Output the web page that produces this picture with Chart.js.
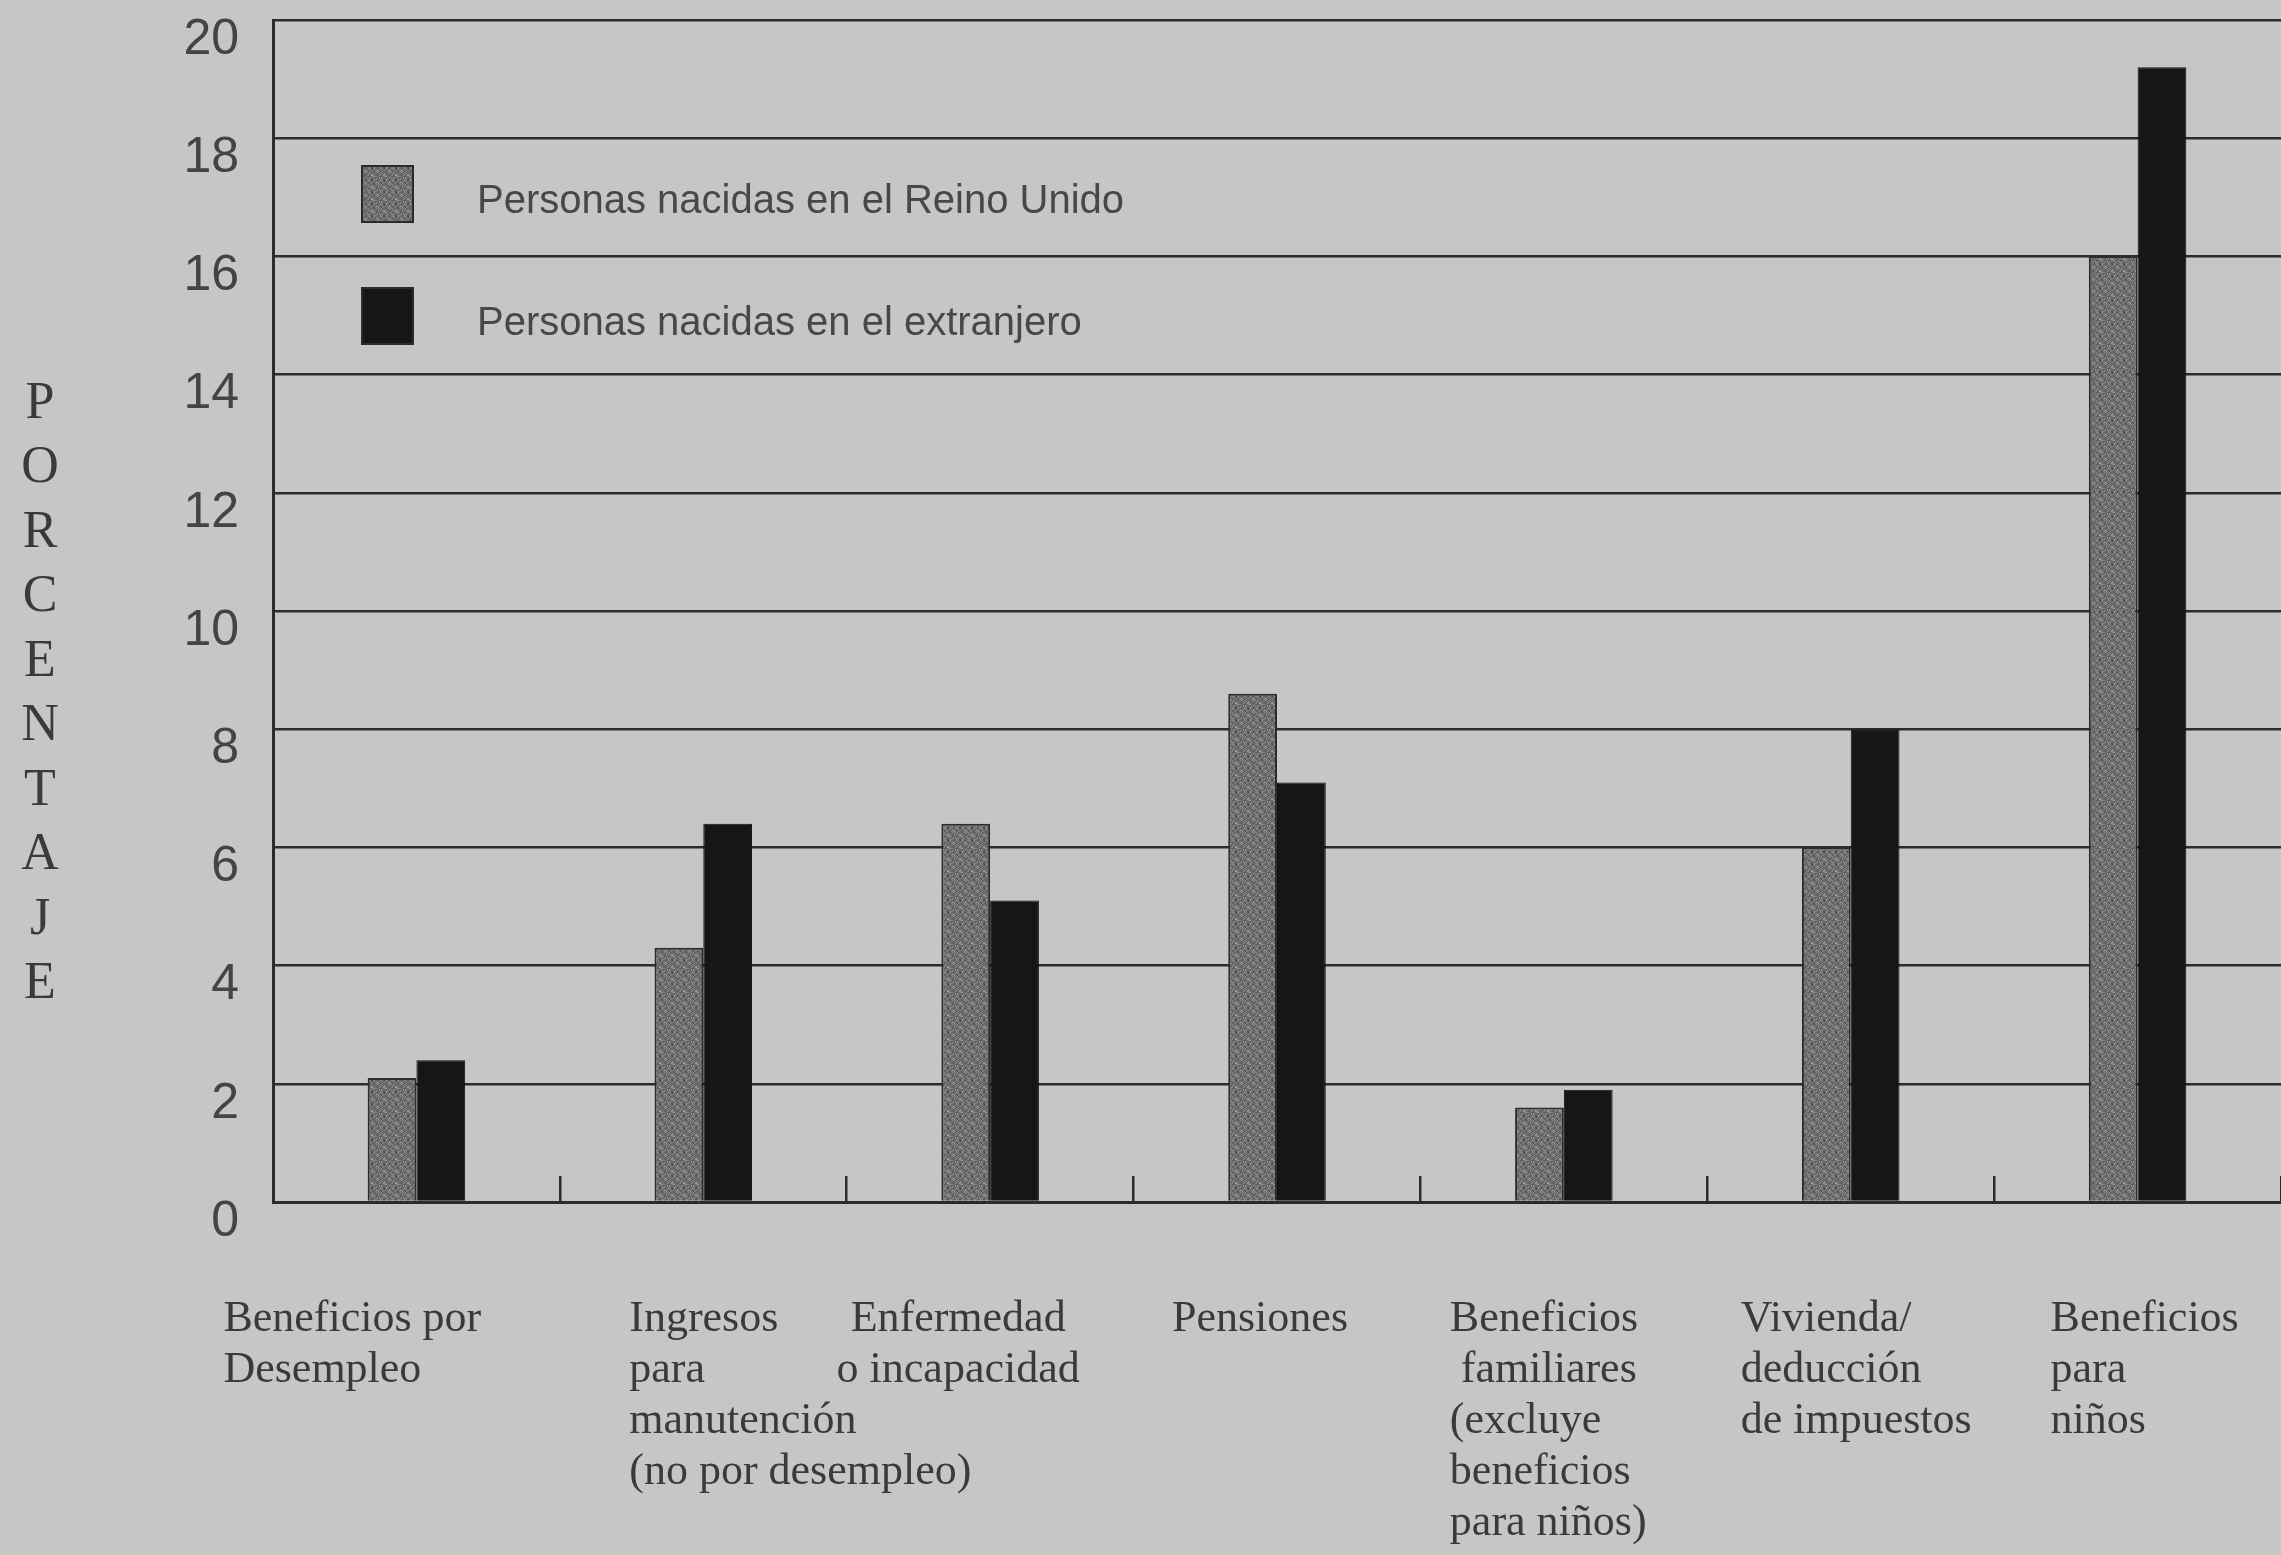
<!DOCTYPE html>
<html>
<head>
<meta charset="utf-8">
<script src="https://cdn.jsdelivr.net/npm/chart.js@4.4.0/dist/chart.umd.min.js"></script>
<style>
  html, body { margin: 0; padding: 0; background: #c6c6c4; }
  #wrap { width: 2281px; height: 1555px; position: relative; }
</style>
</head>
<body>
<div id="wrap"><canvas id="benefit_chart"></canvas></div>
<script>
// categories (one entry per line of the label)
const categories = [
  ["Beneficios por", "Desempleo"],
  ["Ingresos", "para", "manutención", "(no por desempleo)"],
  ["Enfermedad", "o incapacidad"],
  ["Pensiones"],
  ["Beneficios", " familiares", "(excluye", "beneficios", "para niños)"],
  ["Vivienda/", "deducción", "de impuestos"],
  ["Beneficios", "para", "niños"],
];
const born_uk = [2.1, 4.3, 6.4, 8.6, 1.6, 6.0, 16.0];
const born_abroad = [2.4, 6.4, 5.1, 7.1, 1.9, 8.0, 19.2];
const y_ticks = [0, 2, 4, 6, 8, 10, 12, 14, 16, 18, 20];
const series_labels = ["Personas nacidas en el Reino Unido", "Personas nacidas en el extranjero"];
const axis_title = "PORCENTAJE";

// where each category label sits relative to its category centre
const label_layout = [
  { dx: -193, align: "left" },
  { dx: -74, align: "left" },
  { dx: -32, align: "center" },
  { dx: -17, align: "center" },
  { dx: -114, align: "left" },
  { dx: -110, align: "left" },
  { dx: -87, align: "left" },
];

const ink = "#2c2c2c";
const text_color = "#3a3a3a";
const serif = "'Liberation Serif', 'Times New Roman', serif";
const sans = "'Liberation Sans Narrow', 'Liberation Sans', sans-serif";

// stippled grey fill for the UK bars
const make_speckle = () => {
  const c = document.createElement("canvas");
  c.width = 12;
  c.height = 12;
  const g = c.getContext("2d");
  g.fillStyle = "#6e6e6e";
  g.fillRect(0, 0, 12, 12);
  const shades = ["#4a4a4a", "#8e8e8e", "#585858", "#9e9e9e", "#7c7c7c"];
  for (let y = 0; y < 12; y++) {
    for (let x = 0; x < 12; x++) {
      const h = (x * 7 + y * 13 + x * y * 3) % 11;
      if (h < 5) {
        g.fillStyle = shades[h];
        g.fillRect(x, y, 1, 1);
      }
    }
  }
  return g.createPattern(c, "repeat");
};
const speckle = make_speckle();
const bar_fills = [speckle, "#161616"];

const extras = {
  id: "extras",
  afterDraw(chart) {
    const ctx = chart.ctx;
    const area = chart.chartArea;
    const x_scale = chart.scales.x;
    ctx.save();

    // legend inside the plot
    const box_x = area.left + 89;
    const centers = [area.top + 174, area.top + 296];
    series_labels.forEach((label, i) => {
      ctx.fillStyle = bar_fills[i];
      ctx.fillRect(box_x, centers[i] - 28, 51, 56);
      ctx.strokeStyle = ink;
      ctx.lineWidth = 2;
      ctx.strokeRect(box_x, centers[i] - 28, 51, 56);
      ctx.fillStyle = "#484848";
      ctx.font = "40px 'Liberation Sans', sans-serif";
      ctx.textAlign = "left";
      ctx.textBaseline = "middle";
      ctx.fillText(label, area.left + 204, centers[i] + 8);
    });

    // vertical axis title, one letter per row
    ctx.fillStyle = text_color;
    ctx.font = "52px " + serif;
    ctx.textAlign = "center";
    ctx.textBaseline = "middle";
    axis_title.split("").forEach((ch, i) => {
      ctx.fillText(ch, 40, area.top + 384 + i * 64.5);
    });

    // category labels under the axis
    ctx.font = "44px " + serif;
    categories.forEach((lines, i) => {
      const layout = label_layout[i];
      const x = x_scale.getPixelForValue(i) + layout.dx;
      ctx.textAlign = layout.align;
      lines.forEach((line, j) => {
        ctx.fillText(line, x, area.bottom + 117 + j * 51);
      });
    });
    ctx.restore();
  },
};

const config = {
  type: "bar",
  data: {
    labels: categories,
    datasets: [
      {
        label: series_labels[0],
        data: born_uk,
        backgroundColor: speckle,
        borderColor: ink,
        borderWidth: 2,
      },
      {
        label: series_labels[1],
        data: born_abroad,
        backgroundColor: "#161616",
        borderColor: "#111111",
        borderWidth: 1,
      },
    ],
  },
  options: {
    responsive: true,
    maintainAspectRatio: false,
    animation: false,
    categoryPercentage: 0.34,
    barPercentage: 1.0,
    layout: { padding: { top: 20, left: 0, right: 0, bottom: 0 } },
    plugins: {
      legend: { display: false },
      tooltip: { enabled: false },
    },
    scales: {
      x: {
        offset: true,
        grid: {
          offset: true,
          drawOnChartArea: false,
          drawTicks: true,
          tickLength: -26,
          color: ink,
          lineWidth: 2.5,
        },
        border: { color: ink, width: 3 },
        ticks: { display: false },
        afterFit: (scale) => {
          scale.height = 353;
          scale.paddingLeft = 0;
          scale.paddingRight = 0;
        },
      },
      y: {
        min: 0,
        max: 20,
        afterBuildTicks: (scale) => {
          scale.ticks = y_ticks.map((v) => ({ value: v }));
        },
        grid: { color: ink, lineWidth: 2.5, drawTicks: false },
        border: { color: ink, width: 3 },
        ticks: {
          padding: 34,
          labelOffset: 20,
          color: "#444444",
          font: { family: sans, size: 50 },
        },
        afterFit: (scale) => {
          scale.width = 273;
          scale.paddingTop = 0;
          scale.paddingBottom = 0;
        },
      },
    },
  },
  plugins: [extras],
};

const benefit_chart = new Chart(document.getElementById("benefit_chart"), config);
</script>
</body>
</html>
